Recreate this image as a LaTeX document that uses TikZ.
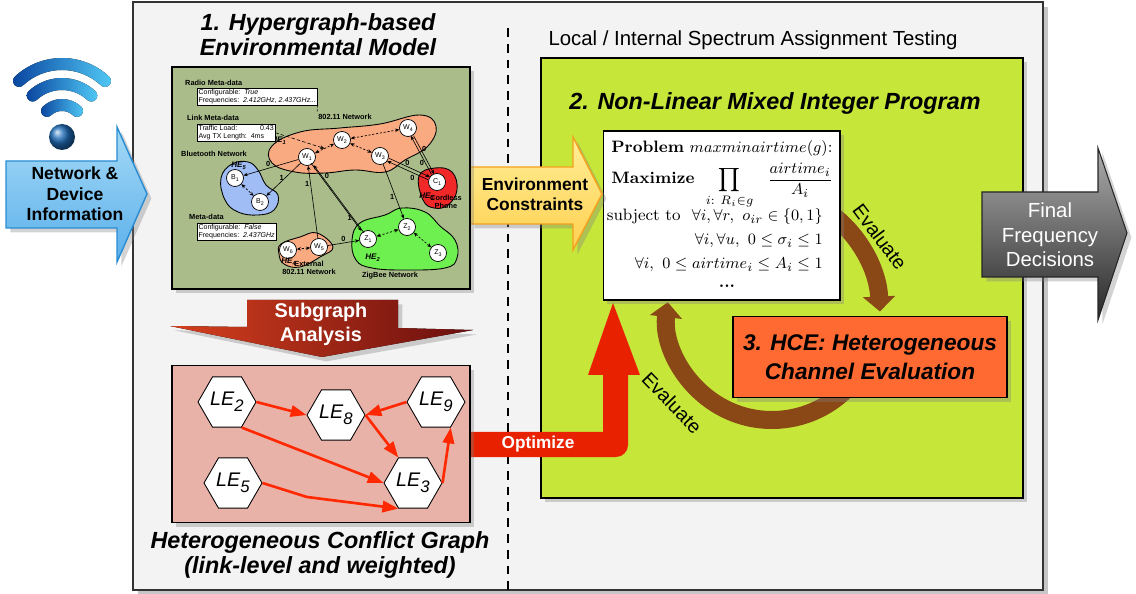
\documentclass[tikz,border=0pt]{standalone}
\usepackage{fontspec}
\usepackage{amsmath,amssymb}
\setsansfont{Liberation Sans}
\renewcommand{\familydefault}{\sfdefault}
\usetikzlibrary{shapes.geometric,arrows.meta,shadows,calc,positioning}

\definecolor{panelgray}{RGB}{243,243,243}
\definecolor{olivebg}{RGB}{169,188,138}
\definecolor{limebg}{RGB}{198,230,58}
\definecolor{hceorange}{RGB}{255,106,51}
\definecolor{conflictpink}{RGB}{233,178,168}
\definecolor{optred}{RGB}{232,34,0}
\definecolor{edgered}{RGB}{255,40,0}
\definecolor{evalbrown}{RGB}{138,72,22}
\definecolor{hesalmon}{RGB}{250,170,128}
\definecolor{heblue}{RGB}{160,190,245}
\definecolor{hegreen}{RGB}{110,240,80}
\definecolor{hered}{RGB}{240,40,40}
\definecolor{wifidark}{RGB}{10,70,160}
\definecolor{wifilight}{RGB}{80,200,245}

% LE_i label and small subscripted node label
\newcommand{\LE}[1]{\textit{LE}\raisebox{-0.55ex}{\textit{\fontsize{9.5}{9.5}\selectfont#1}}}
\newcommand{\hsub}[2]{#1\raisebox{-0.35ex}{\fontsize{3}{3}\selectfont#2}}

\tikzset{
  shadowed/.style={drop shadow={opacity=0.35,shadow xshift=2.5pt,shadow yshift=-2.5pt}},
  titlefont/.style={font=\bfseries\itshape\fontsize{13.3}{14.2}\selectfont,align=center},
  hnode/.style={circle,draw,fill=white,line width=0.4pt,minimum size=0.34cm,inner sep=0pt,font=\fontsize{4}{4}\selectfont},
  harrow/.style={->,>={Stealth[length=2.4pt,width=2pt]},line width=0.35pt},
  hdash/.style={<->,>={Stealth[length=2.4pt,width=2pt]},line width=0.4pt,dash pattern=on 1.2pt off 1pt},
  hlabel/.style={font=\bfseries\fontsize{4.2}{4.8}\selectfont,align=center,inner sep=0.5pt},
  helabel/.style={font=\bfseries\itshape\fontsize{4.6}{4.6}\selectfont,inner sep=0pt},
  elabel/.style={font=\bfseries\fontsize{4.2}{4.2}\selectfont,inner sep=0.6pt},
  metabox/.style={draw,fill=white,line width=0.4pt,inner sep=0.7pt,align=left,font=\fontsize{4}{4.4}\selectfont},
  lehex/.style={regular polygon,regular polygon sides=6,draw,fill=white,line width=0.5pt,minimum size=1.16cm,inner sep=0pt,font=\fontsize{11.2}{12}\selectfont},
  conflict/.style={draw=edgered,line width=1.5pt,-{Triangle[length=9pt,width=6.5pt]}},
  evalarrow/.style={draw=evalbrown,line width=0.36cm,-{Triangle[length=8.5pt,width=18pt]}},
  mathline/.style={font=\rmfamily\fontsize{9.4}{12}\selectfont,inner sep=0pt},
  wifiarc/.style={left color=wifidark,right color=wifilight},
}

\begin{document}
\begin{tikzpicture}[x=0.02cm,y=-0.02cm]
\useasboundingbox (0,0) rectangle (1136,594);

% outer panel and separator
\node[draw=black!80,fill=panelgray,line width=0.8pt,minimum width=18.2cm,minimum height=11.76cm,inner sep=0pt,
  drop shadow={opacity=0.45,shadow xshift=3pt,shadow yshift=-3pt}] (panel) at (588,296) {};
\draw[line width=0.7pt,dash pattern=on 5pt off 4pt] (508,28) -- (508,590);

% titles
\node[titlefont] (hgtitle) at (318,35) {1. Hypergraph-based\\Environmental Model};
\node[font=\fontsize{11.6}{13}\selectfont] (testtitle) at (753,40) {Local / Internal Spectrum Assignment Testing};
\node[titlefont] (cgtitle) at (320,555) {Heterogeneous Conflict Graph\\(link-level and weighted)};

% optimisation region
\node[draw,fill=limebg,line width=0.8pt,minimum width=9.64cm,minimum height=8.8cm,inner sep=0pt,shadowed] (mipregion) at (782,278) {};
\node[titlefont] (miptitle) at (775,103) {2. Non-Linear Mixed Integer Program};

% evaluate loop
\draw[evalarrow] ([shift={(-65:110 and 125)}]770,318) arc[start angle=-65,end angle=-3,x radius=110,y radius=125];
\draw[evalarrow] ([shift={(30:105)}]772,315) arc[start angle=30,end angle=187,radius=105];
\node[font=\fontsize{11.1}{12}\selectfont,rotate=-53] (evalup) at (880,237) {Evaluate};
\node[font=\fontsize{11.1}{12}\selectfont,rotate=-46] (evaldown) at (672,403) {Evaluate};

% optimize arrow
\fill[optred] (465,432) -- (603,432) -- (603,375) -- (588,375) -- (613,303) -- (640,375) -- (628,375)
  -- (628,445) arc[start angle=0,end angle=90,radius=12] -- (465,457) -- cycle;
\node[font=\bfseries\fontsize{9.8}{11}\selectfont,text=white] (opt) at (538,444) {Optimize};

% program box
\node[draw,fill=white,line width=0.6pt,minimum width=4.74cm,minimum height=3.38cm,inner sep=0pt,shadowed] (mipbox) at (721.5,215.5) {};
\node[mathline,anchor=base west] (prob) at (611,153) {\textbf{Problem} $maxminairtime(g)$:};
\node[mathline,anchor=base west] (maxi) at (611,184) {\textbf{Maximize}\ \ $\displaystyle\prod_{i:\ R_i\in g}\ \ \frac{airtime_i}{A_i}$};
\node[mathline,anchor=base east] (cons1) at (823,221) {subject to\ \ $\forall i,\forall r,\ o_{ir}\in\{0,1\}$};
\node[mathline,anchor=base east] (cons2) at (823,245) {$\forall i,\forall u,\ 0\le\sigma_i\le1$};
\node[mathline,anchor=base east] (cons3) at (823,269) {$\forall i,\ 0\le airtime_i\le A_i\le1$};
\node[mathline] (more) at (727,286) {\textbf{...}};

% channel evaluation
\node[draw,fill=hceorange,line width=0.8pt,minimum width=5.48cm,minimum height=1.62cm,inner sep=0pt,shadowed,
  font=\bfseries\itshape\fontsize{12.9}{16.5}\selectfont,align=center] (hce) at (870,357) {3. HCE: Heterogeneous\\Channel Evaluation};

% environment constraints arrow
\draw[draw={rgb,255:red,245;green,160;blue,30},line width=0.8pt,top color={rgb,255:red,255;green,238;blue,150},
  bottom color={rgb,255:red,255;green,208;blue,80},shadowed]
  (470,167) -- (573,167) -- (573,137) -- (602,194) -- (573,250) -- (573,224) -- (470,224) -- cycle;
\node[font=\bfseries\fontsize{9.9}{11.4}\selectfont,align=center] (envc) at (535,194) {Environment\\Constraints};

% conflict graph
\node[draw,fill=conflictpink,line width=0.7pt,minimum width=5.96cm,minimum height=3.14cm,inner sep=0pt,shadowed] (cgbox) at (321,444) {};
\node[lehex] (le2) at (227,402) {\LE{2}};
\node[lehex] (le8) at (336,415) {\LE{8}};
\node[lehex] (le9) at (436,402) {\LE{9}};
\node[lehex] (le5) at (233,483) {\LE{5}};
\node[lehex] (le3) at (413,483) {\LE{3}};
\coordinate (kink) at (307,497);
\draw[conflict] (le2.0) -- (le8.180);
\draw[conflict] (le9.180) -- (le8.0);
\draw[conflict] (le8.0) -- (le3.120);
\draw[conflict] (le2.-60) -- (le3.180);
\draw[conflict] (le5.0) -- (kink) -- (le3.-120);
\draw[conflict] (le3.0) -- (le9.-60);

% subgraph analysis arrow
\fill[left color={rgb,255:red,214;green,64;blue,30},middle color={rgb,255:red,140;green,52;blue,52},
  right color={rgb,255:red,105;green,14;blue,14},shadowed]
  (247,300) -- (398,300) -- (398,328) -- (473,330) -- (322,357) -- (170,326) -- (247,327) -- cycle;
\node[font=\bfseries\fontsize{11.3}{13.7}\selectfont,text=white,align=center] (subg) at (321,324) {Subgraph\\Analysis};

% hypergraph model
\node[draw,fill=olivebg,line width=0.8pt,minimum width=5.96cm,minimum height=4.44cm,inner sep=0pt,shadowed] (hgbox) at (321,178) {};
\draw[fill=hesalmon,line width=0.5pt] plot[smooth cycle,tension=0.7] coordinates {(272,146) (300,132) (340,128) (380,124) (420,115) (436,126) (428,146) (405,160) (385,172) (355,170) (325,173) (295,172) (272,163)};
\draw[fill=heblue,line width=0.5pt] plot[smooth cycle,tension=0.7] coordinates {(221,178) (232,164) (248,162) (258,170) (266,185) (278,195) (274,210) (258,215) (238,212) (225,200)};
\draw[fill=hered,line width=0.5pt] plot[smooth cycle,tension=0.7] coordinates {(419,176) (435,168) (452,172) (457,190) (448,205) (434,208) (423,200)};
\draw[fill=hegreen,line width=0.5pt] plot[smooth cycle,tension=0.7] coordinates {(352,240) (360,223) (385,215) (402,208) (425,212) (440,226) (455,240) (457,258) (445,268) (405,270) (372,268) (356,260)};
\draw[fill=hesalmon,line width=0.5pt] plot[smooth cycle,tension=0.7] coordinates {(281,244) (300,237) (317,233) (333,247) (320,257) (300,267) (284,264) (279,254)};

\node[hnode] (w1) at (307,157) {\hsub{W}{1}};
\node[hnode] (w2) at (342,140) {\hsub{W}{2}};
\node[hnode] (w3) at (380,156) {\hsub{W}{3}};
\node[hnode] (w4) at (408,128) {\hsub{W}{4}};
\node[hnode] (w5) at (319,247) {\hsub{W}{5}};
\node[hnode] (w6) at (288,250) {\hsub{W}{6}};
\node[hnode] (b1) at (235,178) {\hsub{B}{1}};
\node[hnode] (b2) at (260,202) {\hsub{B}{2}};
\node[hnode] (c1) at (437,182) {\hsub{C}{1}};
\node[hnode] (z1) at (368,239) {\hsub{Z}{1}};
\node[hnode] (z2) at (407,227) {\hsub{Z}{2}};
\node[hnode] (z3) at (438,253) {\hsub{Z}{3}};

\node[helabel] (he1) at (279,141) {HE\textsubscript{1}};
\node[helabel] (he5) at (239,166) {HE\textsubscript{5}};
\node[helabel] (he3) at (427,197) {HE\textsubscript{3}};
\node[helabel] (he2) at (373,258) {HE\textsubscript{2}};
\node[helabel] (he4) at (289,262) {HE\textsubscript{4}};

\node[hlabel,anchor=west] (radiolbl) at (184,83) {Radio Meta-data};
\node[metabox,anchor=north west] (radiometa) at (197,88) {Configurable:\ \ \textit{True}\\Frequencies:\ \ \textit{2.412GHz, 2.437GHz...}};
\node[hlabel,anchor=west] (linklbl) at (186,118) {Link Meta-data};
\node[metabox,anchor=north west] (linkmeta) at (197,124) {Traffic Load:\hspace{13pt}0.43\\Avg TX Length:\ \ 4ms};
\node[hlabel,anchor=west] (btlbl) at (180,154) {Bluetooth Network};
\node[hlabel,anchor=west] (extlbl) at (188,217) {Meta-data};
\node[metabox,anchor=north west] (extmeta) at (197,223) {Configurable:\ \ \textit{False}\\Frequencies:\ \ \textit{2.437GHz}};
\node[hlabel] (wifinet) at (345,117) {802.11 Network};
\node[hlabel] (cordless) at (446,202) {Cordless\\Phone};
\node[hlabel] (extnet) at (309,268) {External\\802.11 Network};
\node[hlabel] (zbnet) at (390,276) {ZigBee Network};

\draw[line width=0.35pt,dash pattern=on 1.2pt off 1pt] (radiometa.south east) -- (wifinet.north west);
\draw[harrow,dash pattern=on 2pt off 1.2pt] (linkmeta.east) -- ($(w1)!0.5!(w2)$);
\draw[hdash] (w1) -- (w2);
\draw[hdash] (w2) -- (w4);
\draw[hdash] (w2) -- (w3);
\draw[hdash] (b1) -- (b2);
\draw[hdash] (z1) -- (z2);
\draw[hdash] (z2) -- (z3);
\draw[hdash] (w5) -- (w6);

\draw[harrow] (w1) -- node[elabel,above,pos=0.55] {0} (b1);
\draw[harrow] (w1) -- node[elabel,left,pos=0.45] {1} (b2);
\draw[harrow] (w5) -- node[elabel,left,pos=0.75] {1} (w1);
\draw[harrow,transform canvas={xshift=-0.8pt,yshift=0.6pt}] (w1) -- node[elabel,above right,pos=0.25] {0} (z1);
\draw[harrow,transform canvas={xshift=0.8pt,yshift=-0.6pt}] (z1) -- node[elabel,left,pos=0.22] {1} (w1);
\draw[harrow] (w3) -- node[elabel,left,pos=0.6] {1} (z2);
\draw[harrow,transform canvas={xshift=0.5pt,yshift=0.8pt}] (w3) -- node[elabel,above,pos=0.45] {0} (c1);
\draw[harrow,transform canvas={xshift=-0.5pt,yshift=-0.8pt}] (c1) -- node[elabel,below left,pos=0.3] {0} (w3);
\draw[harrow,transform canvas={xshift=0.8pt}] (w4) -- node[elabel,right,pos=0.35] {0} (c1);
\draw[harrow,transform canvas={xshift=-0.8pt}] (c1) -- node[elabel,left,pos=0.3] {0} (w4);
\draw[harrow] (w5) -- node[elabel,above,pos=0.5] {0} (z1);

% network information input: signal arcs with round ends
\foreach \ro/\ri in {28/16,49/37,69/57}
  \fill[wifiarc] ([shift={(-133:\ro)}]62,127) arc[start angle=-133,end angle=-47,radius=\ro]
    arc[start angle=-47,end angle=133,radius=6] arc[start angle=-47,end angle=-133,radius=\ri]
    arc[start angle=47,end angle=227,radius=6] -- cycle;
\shade[ball color=wifidark!70!wifilight] (62,137) circle[radius=13];
\draw[draw={rgb,255:red,40;green,140;blue,210},line width=0.8pt,top color={rgb,255:red,165;green,218;blue,246},
  bottom color={rgb,255:red,90;green,175;blue,235},shadowed]
  (6,161) -- (117,161) -- (117,127) -- (147,194) -- (117,262) -- (117,228) -- (6,228) -- cycle;
\node[font=\bfseries\fontsize{10}{11.7}\selectfont,align=center] (netinfo) at (75,194) {Network \&\\Device\\Information};

% final decisions output
\draw[draw=black!85,line width=0.6pt,top color={rgb,255:red,172;green,172;blue,172},
  bottom color={rgb,255:red,40;green,40;blue,40},shadowed]
  (982,192) -- (1098,192) -- (1098,148) -- (1127,233) -- (1098,320) -- (1098,277) -- (982,277) -- cycle;
\node[font=\fontsize{11.6}{13.9}\selectfont,text=white,align=center] (final) at (1050,235) {Final\\Frequency\\Decisions};
\end{tikzpicture}
\end{document}
